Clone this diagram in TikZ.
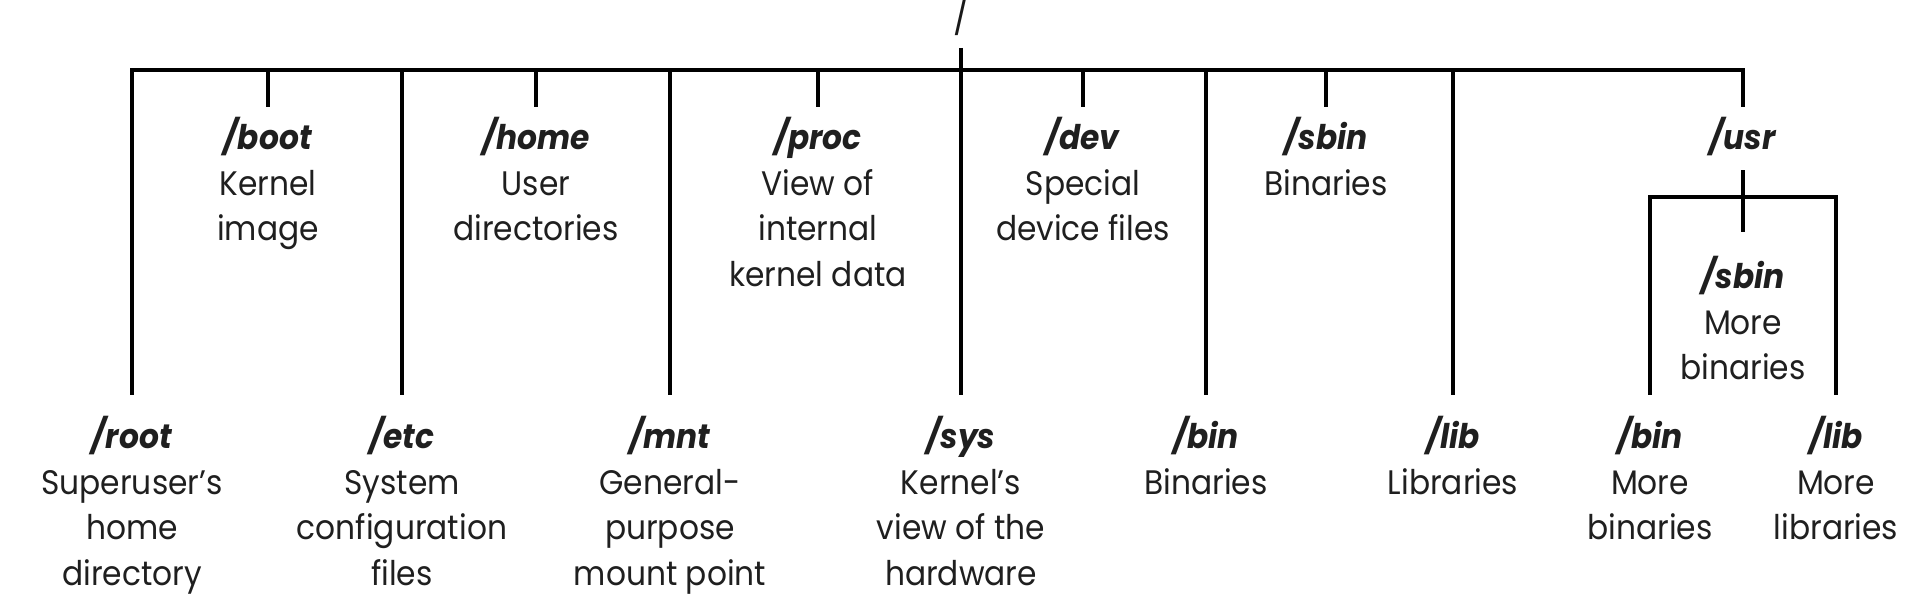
\documentclass[tikz,border=0pt]{standalone}
\usepackage{fontspec}
\setmainfont[FakeStretch=0.92]{Poppins}
\newcommand\dirname[1]{\textbf{\textit{#1}}}
\begin{document}
\begin{tikzpicture}[x=0.5pt,y=-0.5pt,
  conn/.style={line width=2pt, draw=black},
  dir/.style={font=\fontsize{17}{22.8}\selectfont, align=center, anchor=north, inner xsep=0pt, text=black!88},
  topdir/.style={dir, inner ysep=5pt},
  botdir/.style={dir, inner ysep=10.5pt}]
\useasboundingbox (0,0) rectangle (1918,614);
% root
\node[font=\fontsize{18}{22}\selectfont, anchor=south, inner xsep=0pt, inner ysep=6pt, text=black!90] (root) at (961,48) {/};
\coordinate (j) at (961,70);
% upper children
\node[topdir] (boot) at (268,107) {\dirname{/boot}\\Kernel\\image};
\node[topdir] (home) at (536,107) {\dirname{/home}\\User\\directories};
\node[topdir] (proc) at (818,107) {\dirname{/proc}\\View of\\internal\\kernel data};
\node[topdir] (dev) at (1083,107) {\dirname{/dev}\\Special\\device files};
\node[topdir] (sbin) at (1326,107) {\dirname{/sbin}\\Binaries};
\node[topdir] (usr) at (1743,107) {\dirname{/usr}};
% lower children
\node[botdir] (rootdir) at (132,395) {\dirname{/root}\\Superuser’s\\home\\directory};
\node[botdir] (etc) at (402,395) {\dirname{/etc}\\System\\configuration\\files};
\node[botdir] (mnt) at (670,395) {\dirname{/mnt}\\General-\\purpose\\mount point};
\node[botdir] (sys) at (961,395) {\dirname{/sys}\\Kernel’s\\view of the\\hardware};
\node[botdir] (bin) at (1206,395) {\dirname{/bin}\\Binaries};
\node[botdir] (lib) at (1453,395) {\dirname{/lib}\\Libraries};
% /usr subtree
\node[dir, inner ysep=12pt] (usbin) at (1743,232) {\dirname{/sbin}\\More\\binaries};
\coordinate (uj) at (1743,197);
\node[botdir] (ubin) at (1650,395) {\dirname{/bin}\\More\\binaries};
\node[botdir] (ulib) at (1836,395) {\dirname{/lib}\\More\\libraries};
% connectors
\draw[conn] (root.south) -- (j);
\foreach \c in {boot,home,proc,dev,sbin,usr,rootdir,etc,mnt,sys,bin,lib}
  \draw[conn] (j) -| (\c.north);
\draw[conn, shorten <=2pt] (usr.south) -- (usbin.north);
\draw[conn] (uj) -| (ubin.north);
\draw[conn] (uj) -| (ulib.north);
\end{tikzpicture}
\end{document}
